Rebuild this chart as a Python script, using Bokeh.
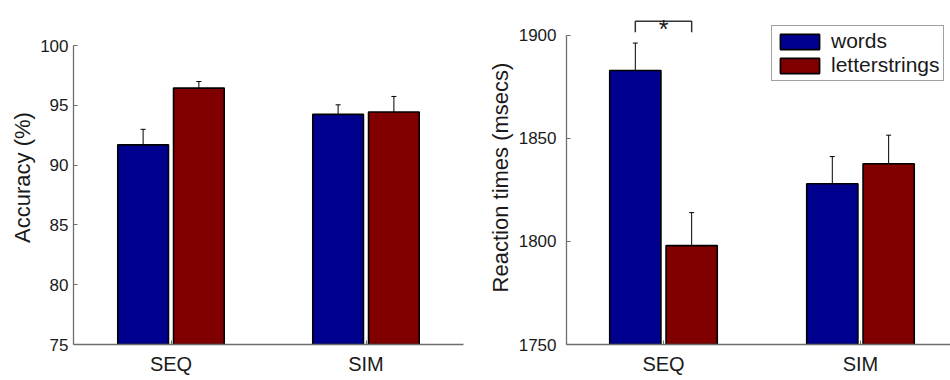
from bokeh.plotting import figure
from bokeh.layouts import row
from bokeh.models import ColumnDataSource, Whisker, TeeHead, FixedTicker, Range1d
from bokeh.embed import file_html
from bokeh.resources import INLINE
from bokeh.core.properties import value

# ---- data ----
conditions = ["SEQ", "SIM"]
series = ["words", "letterstrings"]
acc_words = [91.7, 94.25]
acc_words_err = [1.3, 0.8]
acc_letters = [96.45, 94.45]
acc_letters_err = [0.55, 1.3]
rt_words = [1883, 1828]
rt_words_err = [13.3, 13.2]
rt_letters = [1798, 1837.7]
rt_letters_err = [16.0, 13.9]
acc_ticks = [75, 80, 85, 90, 95, 100]
rt_ticks = [1750, 1800, 1850, 1900]

FONT = "Liberation Sans"
BLUE = "#00008F"
RED = "#800000"
AXC = "#6e6e6e"
OFF = 0.143
BW = 0.26


def make_panel(width, height, borders, xr, yr, ticks, ylabel, words, words_err,
               letters, letters_err, base, tick_standoff, label_standoff,
               legend=False):
    p = figure(width=width, height=height, output_backend="svg", toolbar_location=None,
               x_range=Range1d(*xr), y_range=Range1d(*yr),
               min_border_left=borders[0], min_border_right=borders[1],
               min_border_top=borders[2], min_border_bottom=borders[3])
    p.outline_line_color = None
    p.grid.visible = False
    p.background_fill_color = "white"
    p.border_fill_color = "white"
    xpos = list(range(1, len(conditions) + 1))
    for vals, errs, off, col, name in [(words, words_err, -OFF, BLUE, series[0]),
                                        (letters, letters_err, OFF, RED, series[1])]:
        xs = [x + off for x in xpos]
        src = ColumnDataSource(dict(x=xs, top=vals,
                                    upper=[v + e for v, e in zip(vals, errs)],
                                    lower=[v - e for v, e in zip(vals, errs)]))
        kw = dict(legend_label=name) if legend else {}
        p.vbar(x="x", top="top", bottom=base, width=BW, source=src,
               fill_color=col, line_color="black", line_width=1.6, **kw)
        w = Whisker(base="x", upper="upper", lower="lower", source=src, dimension="height",
                    line_color="black", line_width=1,
                    upper_head=TeeHead(size=5, line_color="black", line_width=1),
                    lower_head=TeeHead(size=5, line_color="black", line_width=1))
        p.add_layout(w)
    p.xaxis.ticker = FixedTicker(ticks=xpos)
    p.xaxis.major_label_overrides = {x: c for x, c in zip(xpos, conditions)}
    p.yaxis.ticker = FixedTicker(ticks=ticks)
    p.yaxis.axis_label = ylabel
    p.yaxis.bounds = (ticks[0], ticks[-1])
    for ax in (p.xaxis, p.yaxis):
        ax.axis_line_color = AXC
        ax.axis_line_width = 1.3
        ax.major_tick_line_color = AXC
        ax.major_tick_in = 4
        ax.major_tick_out = 0
        ax.minor_tick_line_color = None
        ax.major_label_text_font = FONT
        ax.major_label_text_color = "#1a1a1a"
        ax.axis_label_text_font = FONT
        ax.axis_label_text_font_style = "normal"
        ax.axis_label_text_color = "#1a1a1a"
    p.xaxis.major_label_text_font_size = "20px"
    p.xaxis.major_label_standoff = 8
    p.yaxis.major_label_text_font_size = "17px"
    p.yaxis.major_label_standoff = tick_standoff
    p.yaxis.axis_label_text_font_size = "22px"
    p.yaxis.axis_label_standoff = label_standoff
    return p, xpos


left, _ = make_panel(478, 380, (73, 15, 10, 36), (0.5, 2.5), (75, 102.94), acc_ticks,
                     "Accuracy (%)", acc_words, acc_words_err, acc_letters,
                     acc_letters_err, acc_ticks[0], 5, 2)

right, xpos = make_panel(472, 380, (88, 0, 10, 36), (0.5076, 2.457), (1750, 1912.1), rt_ticks,
                         "Reaction times (msecs)", rt_words, rt_words_err, rt_letters,
                         rt_letters_err, rt_ticks[0], 10, 3, legend=True)

# significance bracket over SEQ
top_err = rt_words[0] + rt_words_err[0]
y_lo = top_err + 5.3
y_hi = top_err + 10.6
x1 = xpos[0] - OFF
x2 = xpos[0] + OFF
right.line(x=[x1, x1, x2, x2], y=[y_lo, y_hi, y_hi, y_lo], line_color="#333333", line_width=1.5)
right.text(x=[xpos[0]], y=[top_err + 7.0], text=["*"], text_font=value(FONT),
           text_font_size="25px", text_align="center", text_baseline="alphabetic",
           text_color="#1a1a1a")

lg = right.legend[0]
lg.location = (205, 263)
lg.glyph_width = 49
lg.glyph_height = 19
lg.label_height = 19
lg.label_standoff = 7
lg.spacing = 0
lg.padding = 3
lg.margin = 0
lg.label_text_font = FONT
lg.label_text_font_size = "21px"
lg.label_text_line_height = 0.9
lg.label_text_color = "#1a1a1a"
lg.border_line_color = "#444444"
lg.border_line_width = 1.2
lg.background_fill_alpha = 1.0

layout = row(left, right)
open("out.html", "w").write(file_html(layout, INLINE))
